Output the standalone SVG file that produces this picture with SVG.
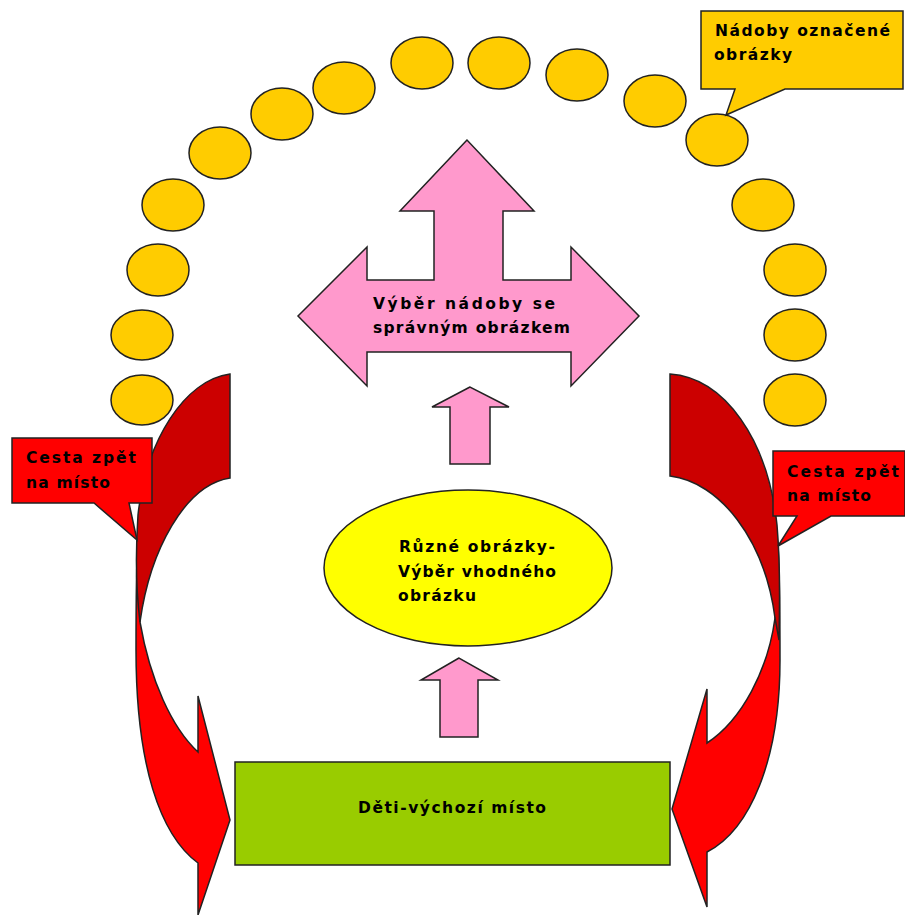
<svg xmlns="http://www.w3.org/2000/svg" width="905" height="915" viewBox="0 0 905 915">
<style>
.s{stroke:#222;stroke-width:1.5;stroke-linejoin:miter}
.o{fill:#ffcc00}.p{fill:#ff99cc}.r{fill:#ff0000}.d{fill:#cc0000}
text{font-family:"DejaVu Sans",sans-serif;font-weight:bold;font-size:15.5px;fill:#000}
</style>
<rect width="905" height="915" fill="#fff"/>
<g id="containers">
<ellipse class="s o" cx="142" cy="400" rx="31" ry="25"/>
<ellipse class="s o" cx="142" cy="335" rx="31" ry="25"/>
<ellipse class="s o" cx="158" cy="270" rx="31" ry="26"/>
<ellipse class="s o" cx="173" cy="205" rx="31" ry="26"/>
<ellipse class="s o" cx="220" cy="153" rx="31" ry="26"/>
<ellipse class="s o" cx="282" cy="114" rx="31" ry="26"/>
<ellipse class="s o" cx="344" cy="88" rx="31" ry="26"/>
<ellipse class="s o" cx="422" cy="63" rx="31" ry="26"/>
<ellipse class="s o" cx="499" cy="63" rx="31" ry="26"/>
<ellipse class="s o" cx="577" cy="75" rx="31" ry="26"/>
<ellipse class="s o" cx="655" cy="101" rx="31" ry="26"/>
<ellipse class="s o" cx="717" cy="140" rx="31" ry="26"/>
<ellipse class="s o" cx="763" cy="205" rx="31" ry="26"/>
<ellipse class="s o" cx="795" cy="270" rx="31" ry="26"/>
<ellipse class="s o" cx="795" cy="335" rx="31" ry="26"/>
<ellipse class="s o" cx="795" cy="400" rx="31" ry="26"/>
</g>
<g id="connectors">
<path class="s r" d="M140,622C150,680 172,728 198,752V696L230,820 198,915V863C160,835 136,765 136,650C136,610 136,570 138,530Z"/>
<path class="s d" d="M230,374V478C185,485 150,550 140,622C136,590 135,560 138,515C146,440 185,380 230,374Z"/>
<path class="s r" d="M775,618C768,670 742,720 707,743V689L672,809 707,907V852C750,830 780,760 780,660C780,620 780,580 778,545Z"/>
<path class="s d" d="M670,374V476C720,482 765,540 775,618L779,640C780,600 780,560 777,525C768,440 725,378 670,374Z"/>
<path id="arrow-big" class="s p" d="M467,140L400,211H434V280H367V247L298,316 367,386V352H571V386L639,316 571,247V280H503V211H534Z"/>
<path id="arrow-upper" class="s p" d="M470,387L432,407H450V464H490V407H509Z"/>
<path id="arrow-lower" class="s p" d="M459,658L421,680H440V737H478V680H498Z"/>
</g>
<g id="selection"><text x="373" y="309" textLength="182">Výběr nádoby se</text><text x="373" y="333" textLength="197">správným obrázkem</text></g>
<g id="pictures">
<ellipse class="s" fill="#ffff00" cx="468" cy="568" rx="144" ry="78"/>
<text x="399" y="552" textLength="156">Různé obrázky-</text>
<text x="398" y="577" textLength="158">Výběr vhodného</text>
<text x="398" y="601" textLength="78">obrázku</text>
</g>
<g id="start">
<rect class="s" fill="#99cc00" x="235" y="762" width="435" height="103"/>
<text x="358" y="813" textLength="188">Děti-výchozí místo</text>
</g>
<g id="callout-containers">
<path class="s o" d="M701,11H903V89H785L726,115 735,89H701Z"/>
<text x="715" y="36" textLength="175">Nádoby označené</text>
<text x="714" y="60" textLength="78">obrázky</text>
</g>
<g id="callout-left">
<path class="s r" d="M12,438H152V503H129L137,540 94,503H12Z"/>
<text x="26" y="463" textLength="110">Cesta zpět</text>
<text x="26" y="488" textLength="84">na místo</text>
</g>
<g id="callout-right">
<path class="s r" d="M773,451H905V516H831L778,546 797,516H773Z"/>
<text x="787" y="477" textLength="112">Cesta zpět</text>
<text x="787" y="501" textLength="84">na místo</text>
</g>
</svg>
